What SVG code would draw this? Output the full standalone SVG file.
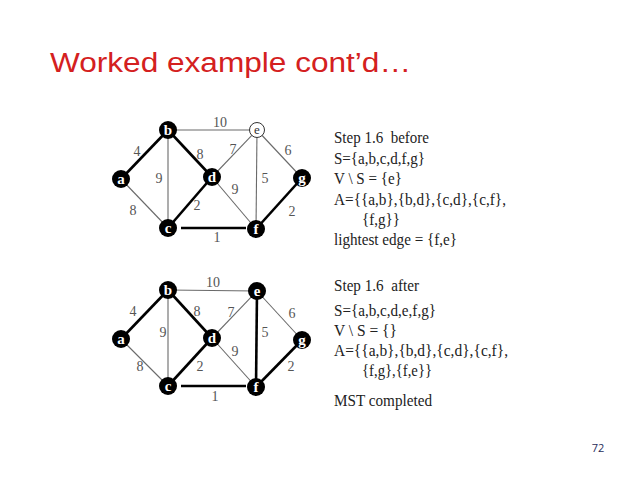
<svg xmlns="http://www.w3.org/2000/svg" width="638" height="479" viewBox="0 0 638 479">
<style>
.thin{stroke:#6a6a6a;stroke-width:1.1;fill:none}
.bold{stroke:#000;stroke-width:2.6;fill:none}
.nd{fill:#000}
.nt{fill:#fff;font-family:"Liberation Serif",serif;font-weight:bold;font-size:15px;text-anchor:middle}
.el{fill:#555;font-family:"Liberation Serif",serif;font-size:14px;text-anchor:middle}
.tx{fill:#222;font-family:"Liberation Serif",serif;font-size:16px}
</style>
<rect width="638" height="479" fill="#fff"/>
<text x="50" y="72" font-family="Liberation Sans, Arial, sans-serif" font-size="27" fill="#d42020" textLength="361" lengthAdjust="spacingAndGlyphs">Worked example cont’d…</text>
<text x="598" y="452" font-family="Open Sans, Liberation Sans, sans-serif" font-size="11" fill="#1f2d5a" text-anchor="middle">72</text>

<!-- Top graph -->
<g id="edges-top">
<line class="thin" x1="168" y1="130" x2="257" y2="130"/>
<line class="thin" x1="168" y1="130" x2="168" y2="228"/>
<line class="thin" x1="121" y1="179" x2="168" y2="228"/>
<line class="thin" x1="257" y1="130" x2="212" y2="177"/>
<line class="thin" x1="257" y1="130" x2="256" y2="229"/>
<line class="thin" x1="257" y1="130" x2="302" y2="178"/>
<line class="thin" x1="212" y1="177" x2="256" y2="229"/>
<line class="bold" x1="121" y1="179" x2="168" y2="130"/>
<line class="bold" x1="168" y1="130" x2="212" y2="177"/>
<line class="bold" x1="168" y1="228" x2="212" y2="177"/>
<line class="bold" x1="181" y1="228" x2="246" y2="228"/>
<line class="bold" x1="256" y1="229" x2="302" y2="178"/>
</g>
<g id="labels-top">
<text class="el" x="220" y="127">10</text>
<text class="el" x="137" y="156">4</text>
<text class="el" x="200" y="159">8</text>
<text class="el" x="233" y="154">7</text>
<text class="el" x="288" y="155">6</text>
<text class="el" x="159" y="183">9</text>
<text class="el" x="265" y="183">5</text>
<text class="el" x="235" y="194">9</text>
<text class="el" x="133" y="215">8</text>
<text class="el" x="197" y="210">2</text>
<text class="el" x="292" y="216">2</text>
<text class="el" x="217" y="242">1</text>
</g>
<g id="t-a"><circle class="nd" cx="121" cy="179" r="9"/><text class="nt" x="121" y="184">a</text></g>
<g id="t-b"><circle class="nd" cx="168" cy="130" r="9"/><text class="nt" x="168" y="135">b</text></g>
<g id="t-c"><circle class="nd" cx="168" cy="228" r="9"/><text class="nt" x="168" y="233">c</text></g>
<g id="t-d"><circle class="nd" cx="212" cy="177" r="9"/><text class="nt" x="212" y="182">d</text></g>
<g id="t-e"><circle cx="257" cy="130" r="7.5" fill="#fff" stroke="#333" stroke-width="1"/><text x="257" y="134" font-family="Liberation Serif, serif" font-size="13" fill="#333" text-anchor="middle">e</text></g>
<g id="t-f"><circle class="nd" cx="256" cy="229" r="9"/><text class="nt" x="256" y="234">f</text></g>
<g id="t-g"><circle class="nd" cx="302" cy="178" r="9"/><text class="nt" x="302" y="183">g</text></g>

<!-- Bottom graph -->
<g id="edges-bottom">
<line class="thin" x1="168" y1="290" x2="257" y2="291"/>
<line class="thin" x1="168" y1="290" x2="168" y2="386"/>
<line class="thin" x1="121" y1="339" x2="168" y2="386"/>
<line class="thin" x1="257" y1="291" x2="212" y2="338"/>
<line class="thin" x1="257" y1="291" x2="302" y2="340"/>
<line class="thin" x1="212" y1="338" x2="256" y2="387"/>
<line class="bold" x1="257" y1="291" x2="256" y2="387"/>
<line class="bold" x1="121" y1="339" x2="168" y2="290"/>
<line class="bold" x1="168" y1="290" x2="212" y2="338"/>
<line class="bold" x1="168" y1="386" x2="212" y2="338"/>
<line class="bold" x1="181" y1="386" x2="246" y2="386"/>
<line class="bold" x1="256" y1="387" x2="302" y2="340"/>
</g>
<g id="labels-bottom">
<text class="el" x="213" y="287">10</text>
<text class="el" x="133" y="316">4</text>
<text class="el" x="197" y="316">8</text>
<text class="el" x="231" y="317">7</text>
<text class="el" x="292" y="318">6</text>
<text class="el" x="163" y="337">9</text>
<text class="el" x="265" y="337">5</text>
<text class="el" x="235" y="356">9</text>
<text class="el" x="140" y="371">8</text>
<text class="el" x="200" y="371">2</text>
<text class="el" x="291" y="371">2</text>
<text class="el" x="215" y="401">1</text>
</g>
<g id="b-a"><circle class="nd" cx="121" cy="339" r="9"/><text class="nt" x="121" y="344">a</text></g>
<g id="b-b"><circle class="nd" cx="168" cy="290" r="9"/><text class="nt" x="168" y="295">b</text></g>
<g id="b-c"><circle class="nd" cx="168" cy="386" r="9"/><text class="nt" x="168" y="391">c</text></g>
<g id="b-d"><circle class="nd" cx="212" cy="338" r="9"/><text class="nt" x="212" y="343">d</text></g>
<g id="b-e"><circle class="nd" cx="257" cy="291" r="9"/><text class="nt" x="257" y="296">e</text></g>
<g id="b-f"><circle class="nd" cx="256" cy="387" r="9"/><text class="nt" x="256" y="392">f</text></g>
<g id="b-g"><circle class="nd" cx="302" cy="340" r="9"/><text class="nt" x="302" y="345">g</text></g>

<g id="text-before">
<text class="tx" x="334" y="143" textLength="95" lengthAdjust="spacingAndGlyphs">Step 1.6&#160; before</text>
<text class="tx" x="334" y="164" textLength="91" lengthAdjust="spacingAndGlyphs">S={a,b,c,d,f,g}</text>
<text class="tx" x="334" y="184" textLength="68" lengthAdjust="spacingAndGlyphs">V \ S = {e}</text>
<text class="tx" x="334" y="205" textLength="172" lengthAdjust="spacingAndGlyphs">A={{a,b},{b,d},{c,d},{c,f},</text>
<text class="tx" x="362" y="225" textLength="38" lengthAdjust="spacingAndGlyphs">{f,g}}</text>
<text class="tx" x="334" y="245" textLength="123" lengthAdjust="spacingAndGlyphs">lightest edge = {f,e}</text>
</g>
<g id="text-after">
<text class="tx" x="334" y="291" textLength="85" lengthAdjust="spacingAndGlyphs">Step 1.6&#160; after</text>
<text class="tx" x="334" y="316" textLength="102" lengthAdjust="spacingAndGlyphs">S={a,b,c,d,e,f,g}</text>
<text class="tx" x="334" y="336" textLength="63" lengthAdjust="spacingAndGlyphs">V \ S = {}</text>
<text class="tx" x="334" y="356" textLength="174" lengthAdjust="spacingAndGlyphs">A={{a,b},{b,d},{c,d},{c,f},</text>
<text class="tx" x="362" y="376" textLength="70" lengthAdjust="spacingAndGlyphs">{f,g},{f,e}}</text>
<text class="tx" x="334" y="406" textLength="98" lengthAdjust="spacingAndGlyphs">MST completed</text>
</g>
</svg>
